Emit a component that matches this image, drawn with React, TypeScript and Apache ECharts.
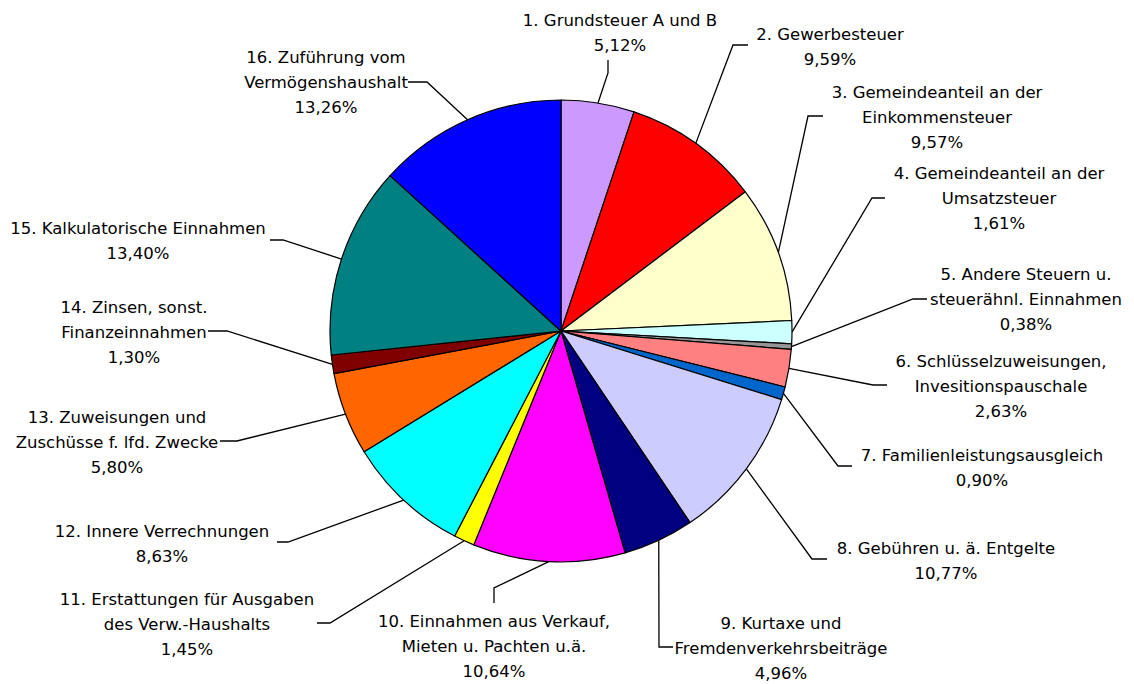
import React, { useEffect, useRef } from 'react';
import * as echarts from 'echarts';

const categories: string[] = [
  '1. Grundsteuer A und B',
  '2. Gewerbesteuer',
  '3. Gemeindeanteil an der\nEinkommensteuer',
  '4. Gemeindeanteil an der\nUmsatzsteuer',
  '5. Andere Steuern u.\nsteuerähnl. Einnahmen',
  '6. Schlüsselzuweisungen,\nInvesitionspauschale',
  '7. Familienleistungsausgleich',
  '8. Gebühren u. ä. Entgelte',
  '9. Kurtaxe und\nFremdenverkehrsbeiträge',
  '10. Einnahmen aus Verkauf,\nMieten u. Pachten u.ä.',
  '11. Erstattungen für Ausgaben\ndes Verw.-Haushalts',
  '12. Innere Verrechnungen',
  '13. Zuweisungen und\nZuschüsse f. lfd. Zwecke',
  '14. Zinsen, sonst.\nFinanzeinnahmen',
  '15. Kalkulatorische Einnahmen',
  '16. Zuführung vom\nVermögenshaushalt',
];

const shares: number[] = [
  5.12, 9.59, 9.57, 1.61, 0.38, 2.63, 0.9, 10.77, 4.96, 10.64, 1.45, 8.63, 5.8, 1.3, 13.4, 13.26,
];

const sliceColors: string[] = [
  '#CC99FF', '#FF0000', '#FFFFCC', '#CCFFFF', '#969696', '#FF8080', '#0066CC', '#CCCCFF',
  '#000080', '#FF00FF', '#FFFF00', '#00FFFF', '#FF6600', '#800000', '#008080', '#0000FF',
];

// label layout: [textCenterX, textCenterY, elbowX, elbowY, endX, endY]
const labelPlacement: number[][] = [
  [620, 33, 608, 73, 608, 60],
  [830, 47, 733, 45, 748, 45],
  [937, 117, 808, 116, 823, 116],
  [999, 198, 872, 198, 885, 198],
  [1026, 299, 913, 299, 927, 299],
  [1001, 386, 873, 385, 887, 385],
  [982, 468, 838, 466, 852, 466],
  [946, 561, 812, 559, 827, 559],
  [781, 648, 659, 647, 673, 647],
  [494, 646, 494, 588, 494, 603],
  [187, 624, 330, 623, 317, 623],
  [162, 544, 288, 542, 277, 542],
  [117, 442, 237, 441, 220, 441],
  [134, 332, 227, 331, 208, 331],
  [138, 241, 283, 240, 270, 240],
  [326, 82, 427, 82, 408, 82],
];

const CX = 561;
const CY = 331;
const R = 231;

const fmt = (v: number) => v.toFixed(2).replace('.', ',') + '%';

export default function App() {
  const ref = useRef<HTMLDivElement>(null);
  useEffect(() => {
    if (!ref.current) return;
    const chart = echarts.init(ref.current, undefined, { renderer: 'svg' });
    const total = shares.reduce((a, b) => a + b, 0);
    const cum: number[] = [];
    let acc = 0;
    shares.forEach((v) => {
      cum.push(acc + v / 2);
      acc += v;
    });
    chart.setOption({
      animation: false,
      backgroundColor: '#ffffff',
      series: [
        {
          type: 'pie',
          center: [CX, CY],
          radius: R,
          startAngle: 90,
          clockwise: true,
          avoidLabelOverlap: false,
          silent: true,
          emphasis: { disabled: true },
          itemStyle: { borderColor: '#000', borderWidth: 1.2 },
          label: {
            show: true,
            position: 'outside',
            fontFamily: "'DejaVu Sans', sans-serif",
            fontSize: 16.5,
            lineHeight: 25,
            color: '#000',
            align: 'center',
            formatter: (p: any) => p.name + '\n' + fmt(p.value),
          },
          labelLine: {
            show: true,
            length: 10,
            length2: 10,
            lineStyle: { color: '#000', width: 1.3 },
          },
          labelLayout: (params: any) => {
            const i = params.dataIndex;
            const lp = labelPlacement[i];
            let p0: number[];
            if (params.labelLinePoints && params.labelLinePoints[0]) {
              p0 = params.labelLinePoints[0];
            } else {
              const ang = (cum[i] / total) * Math.PI * 2;
              p0 = [CX + R * Math.sin(ang), CY - R * Math.cos(ang)];
            }
            return {
              x: lp[0],
              y: lp[1],
              align: 'center',
              verticalAlign: 'middle',
              labelLinePoints: [
                [p0[0], p0[1]],
                [lp[2], lp[3]],
                [lp[4], lp[5]],
              ],
            };
          },
          data: categories.map((name, i) => ({
            name,
            value: shares[i],
            itemStyle: { color: sliceColors[i] },
          })),
        },
      ],
    });
    return () => chart.dispose();
  }, []);
  return (
    <div
      ref={ref}
      style={{ position: 'absolute', left: 0, top: 0, width: 1134, height: 684, background: '#fff' }}
    />
  );
}
